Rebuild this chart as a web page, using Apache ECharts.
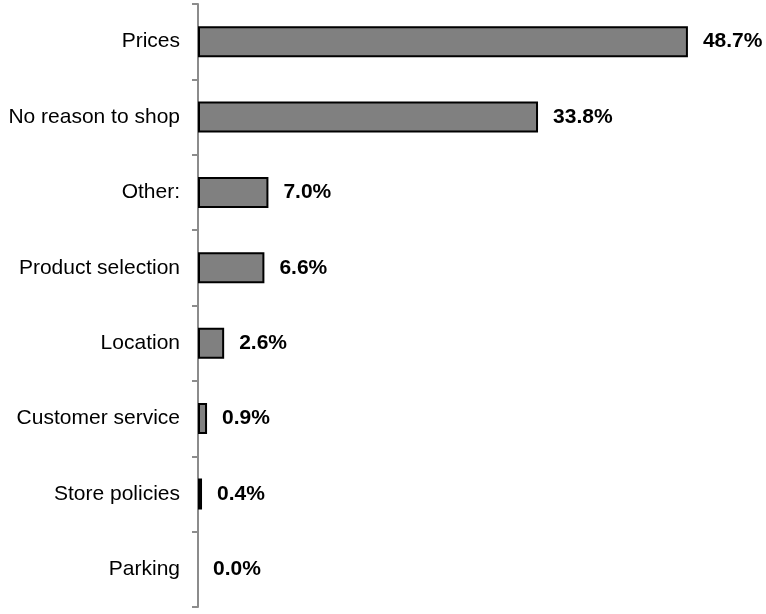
<!DOCTYPE html>
<html>
<head>
<meta charset="utf-8">
<script src="https://cdn.jsdelivr.net/npm/echarts@6/dist/echarts.min.js"></script>
<style>
  html, body { margin: 0; padding: 0; background: #fff; }
  #chart { width: 766px; height: 614px; }
</style>
</head>
<body>
<div id="chart"></div>
<script>
// Reasons given, top to bottom
const categories = [
  'Prices', 'No reason to shop', 'Other:', 'Product selection',
  'Location', 'Customer service', 'Store policies', 'Parking'
];
// Share of respondents (%)
const shares = [48.7, 33.8, 7.0, 6.6, 2.6, 0.9, 0.4, 0.0];

const fontFamily = 'Liberation Sans, Arial, sans-serif';

// Zero-length bars get no outline so nothing is drawn over the axis line
const barData = shares.map(v => ({
  value: v,
  itemStyle: v === 0 ? { borderWidth: 0 } : undefined
}));

const chart = echarts.init(document.getElementById('chart'));
chart.setOption({
  animation: false,
  grid: { left: 198, top: 4, width: 503, height: 603, containLabel: false },
  xAxis: {
    type: 'value', min: 0, max: 50, show: false
  },
  yAxis: {
    type: 'category',
    data: categories,
    inverse: true,
    axisLine: { show: true, lineStyle: { color: '#8c8c8c', width: 2 } },
    axisTick: { show: true, length: 6, inside: false, lineStyle: { color: '#8c8c8c', width: 2 } },
    axisLabel: {
      margin: 18, color: '#000',
      fontFamily: fontFamily, fontSize: 21
    },
    splitLine: { show: false }
  },
  series: [{
    type: 'bar',
    data: barData,
    barWidth: 31,
    itemStyle: { color: '#808080', borderColor: '#000', borderWidth: 2 },
    label: {
      show: true, position: 'right', distance: 15,
      formatter: p => p.value.toFixed(1) + '%',
      color: '#000', fontWeight: 'bold',
      fontFamily: fontFamily, fontSize: 21
    }
  }]
});
</script>
</body>
</html>
